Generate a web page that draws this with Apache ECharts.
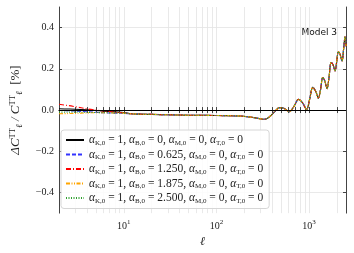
<!DOCTYPE html>
<html>
<head>
<meta charset="utf-8">
<script src="https://cdn.jsdelivr.net/npm/echarts@6/dist/echarts.min.js"></script>
<style>html,body{margin:0;padding:0;background:#fff;}#c{width:354px;height:253px;}</style>
</head>
<body>
<div id="c"></div>
<script>
// Low-ell part (differs per series)
var lowEll    = [2, 2.5, 3, 4, 5, 6, 8, 10];
var lowBlack  = [0.006, 0.005, 0.004, 0.001, -0.002, -0.005, -0.009, -0.012];
var lowBlue   = [-0.002, -0.003, -0.005, -0.008, -0.011, -0.013, -0.015, -0.016];
var lowRed    = [0.028, 0.022, 0.016, 0.006, 0.000, -0.004, -0.010, -0.014];
var lowOrange = [-0.018, -0.017, -0.016, -0.014, -0.013, -0.013, -0.014, -0.015];
var lowGreen  = [-0.010, -0.010, -0.010, -0.011, -0.012, -0.013, -0.014, -0.015];
// Shared part (all curves overlap)
var sharedEll = [12, 15, 20, 30, 50, 80, 120, 180, 230, 280, 330, 380, 430, 480, 540, 610, 680, 770, 850, 940, 1010, 1096, 1180, 1259, 1330, 1403, 1480, 1562, 1640, 1726, 1810, 1905, 1990, 2067, 2160, 2265, 2360, 2440, 2500];
var sharedVal = [-0.018, -0.020, -0.021, -0.023, -0.025, -0.026, -0.027, -0.029, -0.034, -0.040, -0.045, -0.030, -0.005, 0.012, 0.008, -0.008, 0.015, 0.052, 0.035, 0.003, 0.050, 0.110, 0.090, 0.058, 0.100, 0.158, 0.140, 0.104, 0.160, 0.230, 0.220, 0.190, 0.240, 0.283, 0.270, 0.238, 0.300, 0.355, 0.310];

var xMajor = [10, 100, 1000];
var xTicks = [2,3,4,5,6,7,8,9,10,20,30,40,50,60,70,80,90,100,200,300,400,500,600,700,800,900,1000,2000];
var yTicks = [-0.4, -0.2, 0, 0.2, 0.4];

var bValues = ['0', '0.625', '1.250', '1.875', '2.500'];
var seriesNames = ['s0','s1','s2','s3','s4'];
var lows = [lowBlack, lowBlue, lowRed, lowOrange, lowGreen];
var colors = ['#000000', '#3333ff', '#ff0000', '#ffa500', '#2ca02c'];
var types = ['solid', [4, 2], [5, 2, 1, 2], [4, 1.5, 1, 1.5, 1, 1.5], [1, 1.5]];

function buildData(low) {
  var d = [];
  for (var i = 0; i < lowEll.length; i++) d.push([lowEll[i], low[i]]);
  for (var j = 0; j < sharedEll.length; j++) d.push([sharedEll[j], sharedVal[j]]);
  return d;
}

var serif = 'Liberation Serif';
var series = seriesNames.map(function (n, i) {
  return {
    name: n, type: 'line', data: buildData(lows[i]),
    symbol: 'none', smooth: 0.35,
    lineStyle: { color: colors[i], width: 1.1, type: types[i] },
    itemStyle: { color: colors[i] },
    z: 3 + i
  };
});
series[0].markLine = {
  silent: true, symbol: 'none', label: { show: false },
  lineStyle: { color: '#000', width: 1, type: 'solid' },
  data: [{ yAxis: 0 }], z: 10
};

function legendText(name) {
  var i = seriesNames.indexOf(name);
  return '{i|α}{s|K,0}{t| = 1, }{i|α}{s|B,0}{t| = ' + bValues[i] + ', }{i|α}{s|M,0}{t| = 0, }{i|α}{s|T,0}{t| = 0}';
}

var axisLineStyle = { color: '#444', width: 1 };
var chart = echarts.init(document.getElementById('c'), null, { renderer: 'canvas' });
chart.setOption({
  animation: false,
  backgroundColor: '#fff',
  grid: { left: 56, right: 8, top: 7, bottom: 36, containLabel: false },
  xAxis: [{
    type: 'log', logBase: 10, min: 2, max: 2500,
    name: 'ℓ', nameLocation: 'middle', nameGap: 20,
    nameTextStyle: { fontFamily: serif, fontStyle: 'italic', fontSize: 12, color: '#222' },
    axisLine: { lineStyle: axisLineStyle },
    axisTick: { inside: true, length: 3, customValues: xTicks, lineStyle: axisLineStyle },
    axisLabel: {
      customValues: xMajor, margin: 6, color: '#222',
      formatter: function (v) { return '{b|10}{s|' + Math.round(Math.log10(v)) + '}'; },
      rich: {
        b: { fontFamily: serif, fontSize: 10, color: '#222', lineHeight: 12, verticalAlign: 'bottom' },
        s: { fontFamily: serif, fontSize: 7, color: '#222', lineHeight: 8, verticalAlign: 'top' }
      }
    },
    splitLine: { show: true, lineStyle: { color: '#e3e3e3', width: 0.8 } }
  }, {
    type: 'log', logBase: 10, min: 2, max: 2500, position: 'top',
    axisLine: { lineStyle: axisLineStyle },
    axisTick: { inside: true, length: 3, customValues: xTicks, lineStyle: axisLineStyle },
    axisLabel: { show: false }, splitLine: { show: false }
  }],
  yAxis: [{
    type: 'value', min: -0.5, max: 0.5,
    name: '{a|ΔC}{p|TT}{b|ℓ}{a| / C}{p|TT}{b|ℓ}{r|  [%]}',
    nameLocation: 'middle', nameGap: 35, nameRotate: 90,
    nameTextStyle: {
      rich: {
        a: { fontFamily: serif, fontStyle: 'italic', fontSize: 13, color: '#222', lineHeight: 16 },
        r: { fontFamily: serif, fontSize: 13, color: '#222', lineHeight: 16 },
        p: { fontFamily: serif, fontSize: 8.5, color: '#222', lineHeight: 9, verticalAlign: 'top' },
        b: { fontFamily: serif, fontStyle: 'italic', fontSize: 9, color: '#222', lineHeight: 9, verticalAlign: 'bottom' }
      }
    },
    axisLine: { show: true, lineStyle: axisLineStyle },
    axisTick: { show: true, inside: true, length: 3, customValues: yTicks, lineStyle: axisLineStyle },
    axisLabel: {
      customValues: yTicks, margin: 5, fontFamily: serif, fontSize: 10, color: '#222',
      formatter: function (v) { return (v < 0 ? '−' : '') + Math.abs(v).toFixed(1); }
    },
    splitLine: { show: true, lineStyle: { color: '#e3e3e3', width: 0.8 } }
  }, {
    type: 'value', min: -0.5, max: 0.5, position: 'right',
    axisLine: { show: true, lineStyle: axisLineStyle },
    axisTick: { show: true, inside: true, length: 3, customValues: yTicks, lineStyle: axisLineStyle },
    axisLabel: { show: false }, splitLine: { show: false }
  }],
  legend: {
    orient: 'vertical', left: 61, top: 130,
    data: seriesNames,
    itemWidth: 18, itemHeight: 8, itemGap: 2,
    padding: [4, 6, 4, 4],
    backgroundColor: 'rgba(255,255,255,0.85)',
    borderColor: '#d6d6d6', borderWidth: 1, borderRadius: 3,
    itemStyle: { opacity: 0 },
    formatter: legendText,
    textStyle: {
      rich: {
        i: { fontFamily: serif, fontStyle: 'italic', fontSize: 11.5, color: '#222', lineHeight: 13 },
        t: { fontFamily: serif, fontSize: 11.5, color: '#222', lineHeight: 13 },
        s: { fontFamily: serif, fontSize: 7, color: '#222', lineHeight: 7, verticalAlign: 'bottom' }
      }
    }
  },
  graphic: [{
    type: 'text', right: 17, top: 28,
    style: { text: 'Model 3', font: '9px "DejaVu Sans"', fill: '#111' }
  }],
  series: series
});
</script>
</body>
</html>
